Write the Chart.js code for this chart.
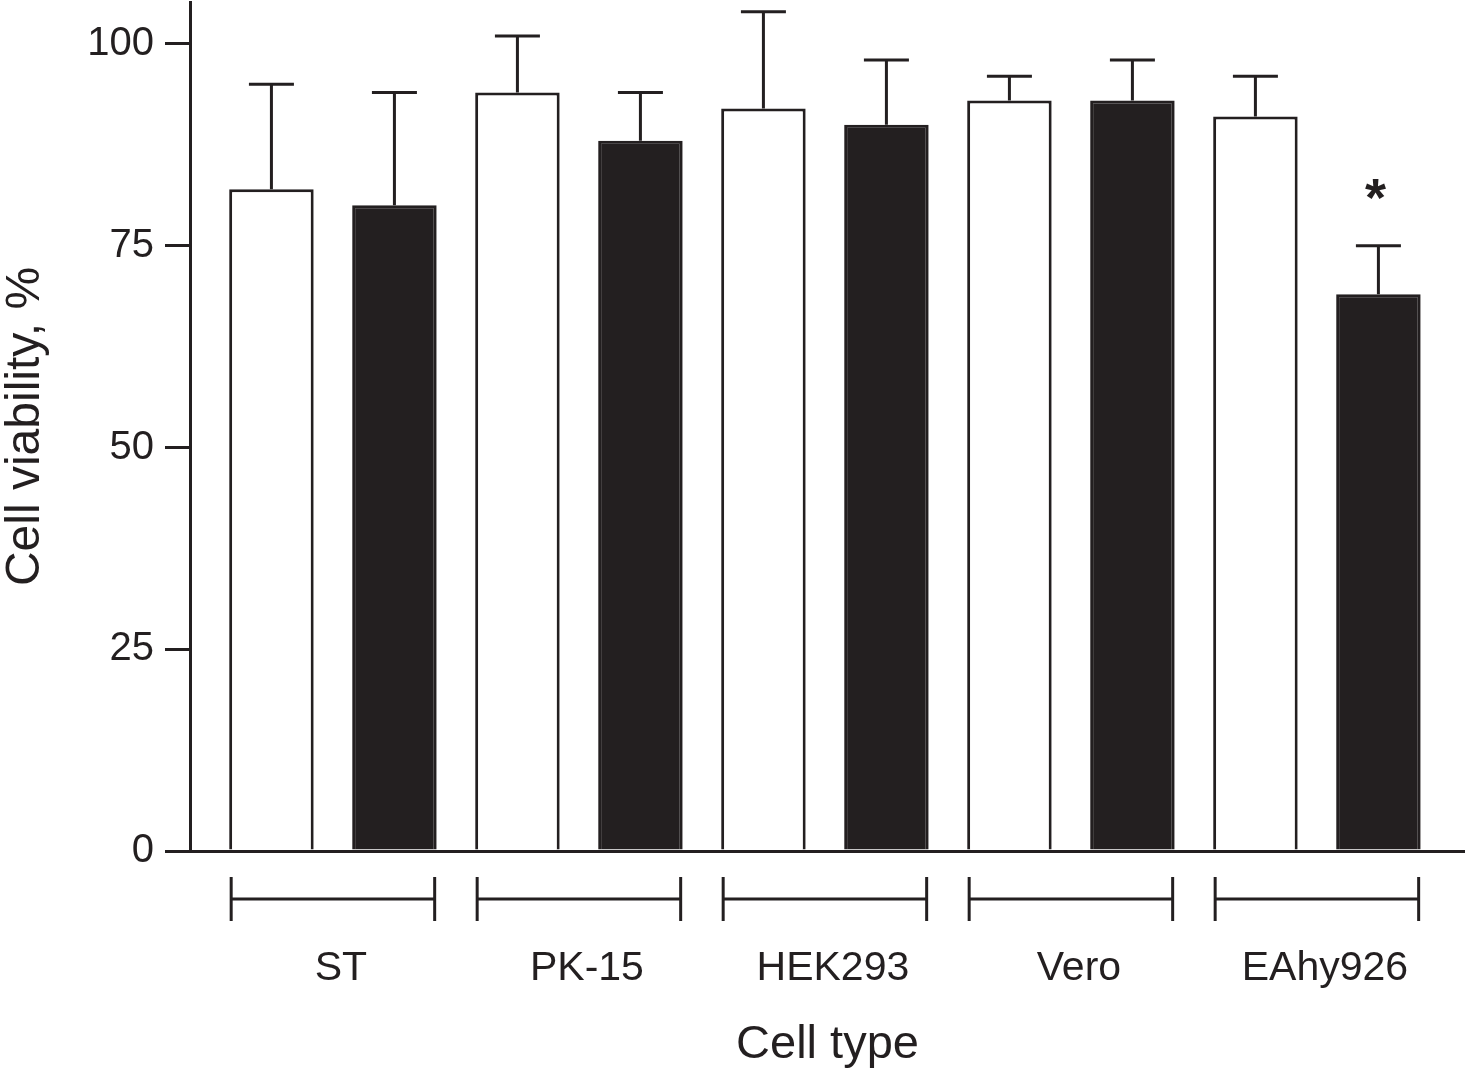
<!DOCTYPE html>
<html>
<head>
<meta charset="utf-8">
<script src="https://cdn.jsdelivr.net/npm/chart.js@4.4.1/dist/chart.umd.min.js"></script>
<style>
  html, body { margin: 0; padding: 0; background: #fff; overflow: hidden; }
  canvas { display: block; }
</style>
</head>
<body>
<canvas id="grafica" width="1465" height="1073"></canvas>
<script>
// datos
var cellTypes = ['ST', 'PK-15', 'HEK293', 'Vero', 'EAhy926'];
var controlMean = [82, 94, 92, 93, 91];
var controlSd = [13, 7, 12, 3, 5];
var treatedMean = [80, 88, 90, 93, 69];
var treatedSd = [14, 6, 8, 5, 6];
var treatedSig = ['', '', '', '', '*'];
var yTicks = [0, 25, 50, 75, 100];

var ink = '#231f20';
var fam = '"Liberation Sans", Arial, Helvetica, sans-serif';
Chart.defaults.font.family = fam;
Chart.defaults.color = ink;

// error bars, brackets under the axis and the asterisk
var extras = {
  id: 'extras',
  afterDatasetsDraw: function (chart) {
    var ctx = chart.ctx;
    var y = chart.scales.y;
    var w = chart.getDatasetMeta(0).data;
    var b = chart.getDatasetMeta(1).data;
    ctx.save();
    ctx.strokeStyle = ink;
    ctx.lineWidth = 3;
    [[w, controlMean, controlSd], [b, treatedMean, treatedSd]].forEach(function (s) {
      s[0].forEach(function (el, i) {
        var top = y.getPixelForValue(s[1][i] + s[2][i]);
        ctx.beginPath();
        ctx.moveTo(el.x, el.y);
        ctx.lineTo(el.x, top);
        ctx.moveTo(el.x - 22.5, top);
        ctx.lineTo(el.x + 22.5, top);
        ctx.stroke();
      });
    });
    var by = chart.chartArea.bottom + 48;
    w.forEach(function (el, i) {
      var l = el.x - el.width / 2 + 2;
      var r = b[i].x + b[i].width / 2 - 2;
      ctx.beginPath();
      ctx.moveTo(l, by); ctx.lineTo(r, by);
      ctx.moveTo(l, by - 22); ctx.lineTo(l, by + 22);
      ctx.moveTo(r, by - 22); ctx.lineTo(r, by + 22);
      ctx.stroke();
    });
    ctx.fillStyle = ink;
    ctx.font = 'bold 54px ' + fam;
    ctx.textAlign = 'center';
    ctx.textBaseline = 'alphabetic';
    b.forEach(function (el, i) {
      if (!treatedSig[i]) return;
      var top = y.getPixelForValue(treatedMean[i] + treatedSd[i]);
      ctx.fillText(treatedSig[i], el.x - 3, top - 30);
    });
    ctx.restore();
  }
};

var w = new Chart(document.getElementById('grafica'), {
  type: 'bar',
  data: {
    datasets: [
      {
        label: 'Control',
        data: controlMean.map(function (v, i) { return { x: i, y: v }; }),
        backgroundColor: '#ffffff',
        borderColor: ink,
        borderWidth: 3
      },
      {
        label: 'Treated',
        data: treatedMean.map(function (v, i) { return { x: i, y: v }; }),
        backgroundColor: ink,
        borderColor: ink,
        borderWidth: 3
      }
    ]
  },
  options: {
    responsive: false,
    animation: false,
    devicePixelRatio: 1,
    categoryPercentage: 1.0,
    barPercentage: 0.687,
    layout: { padding: { top: 2, right: 0, bottom: 0, left: 0 } },
    scales: {
      x: {
        type: 'linear',
        offset: false,
        min: -0.581,
        max: 4.602,
        afterFit: function (s) { s.height = 222; s.paddingLeft = 0; s.paddingRight = 0; },
        afterBuildTicks: function (s) { s.ticks = cellTypes.map(function (c, i) { return { value: i }; }); },
        border: { display: true, color: ink, width: 3 },
        grid: { display: false, drawTicks: false },
        ticks: {
          callback: function (v) { return cellTypes[v]; },
          autoSkip: false,
          maxRotation: 0,
          labelOffset: 8,
          padding: 93,
          color: ink,
          font: { size: 41 }
        },
        title: {
          display: true,
          text: 'Cell type',
          color: ink,
          font: { size: 47, lineHeight: 1.2 },
          padding: { top: 0, bottom: 0 }
        }
      },
      y: {
        min: 0,
        max: 105.2,
        afterFit: function (s) { s.width = 190; s.paddingTop = 0; s.paddingBottom = 0; },
        afterBuildTicks: function (s) { s.ticks = yTicks.map(function (v) { return { value: v }; }); },
        border: { display: true, color: ink, width: 3 },
        grid: { display: true, drawOnChartArea: false, drawTicks: true, tickLength: 25, color: ink, lineWidth: 3 },
        ticks: { includeBounds: false, padding: 11, color: ink, font: { size: 40 } },
        title: {
          display: true,
          text: 'Cell viability, %',
          color: ink,
          font: { size: 48, lineHeight: 1 },
          padding: { top: 2, bottom: 0 }
        }
      }
    },
    plugins: {
      legend: { display: false },
      tooltip: { enabled: false }
    }
  },
  plugins: [extras]
});
</script>
</body>
</html>
